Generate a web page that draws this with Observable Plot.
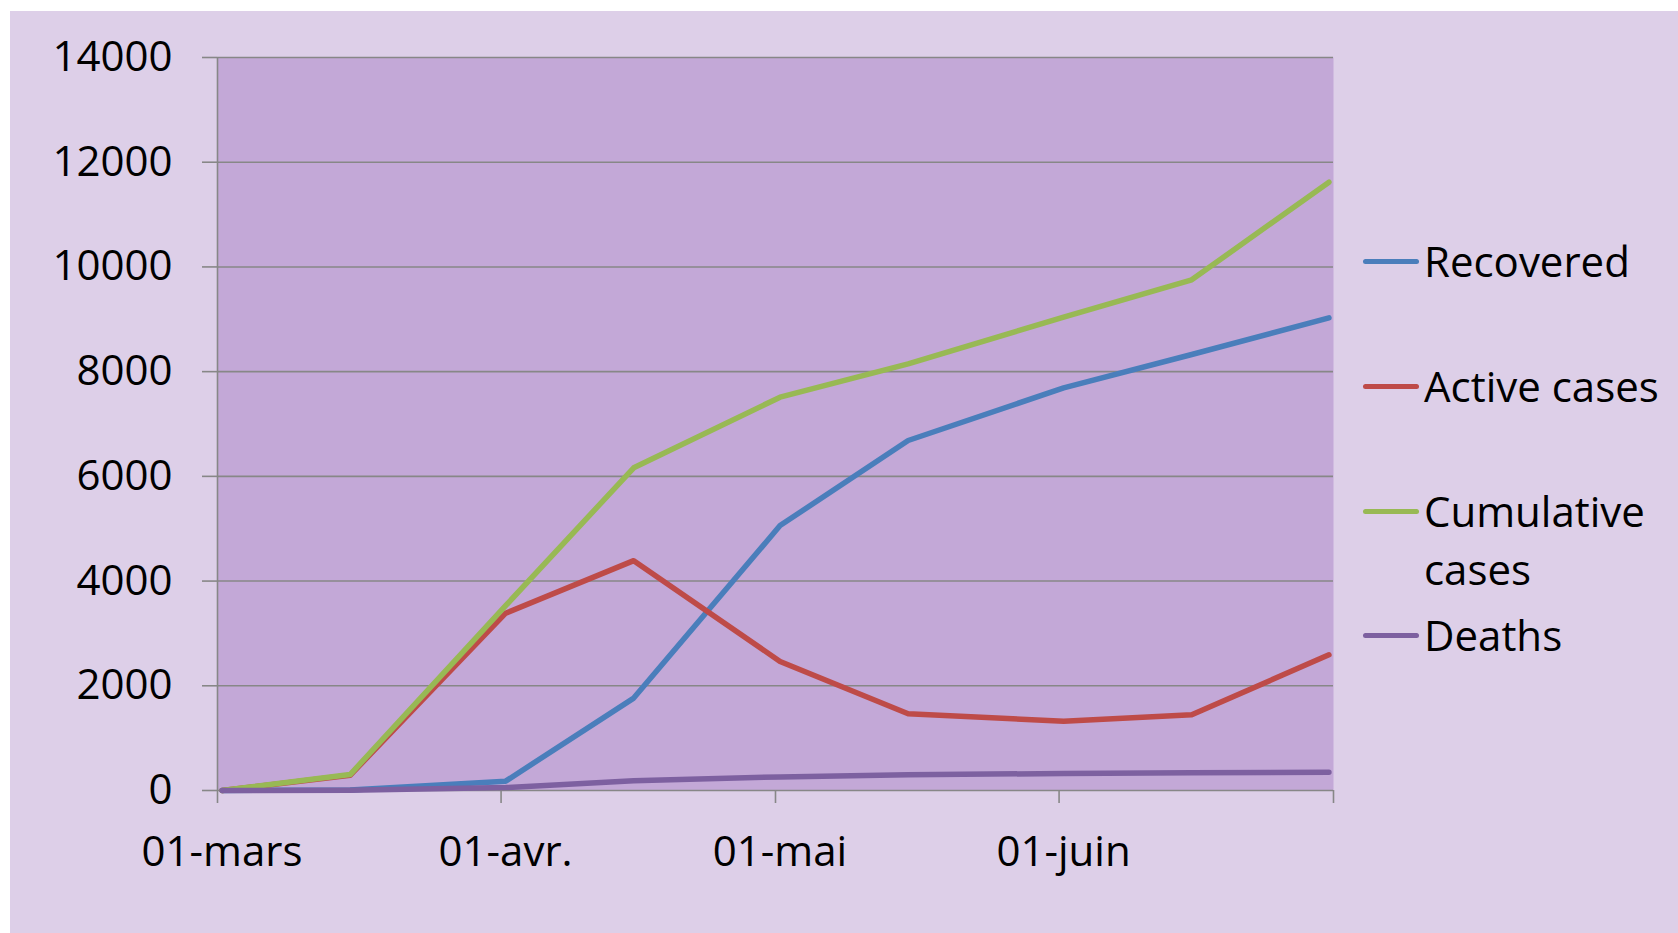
<!DOCTYPE html>
<html>
<head>
<meta charset="utf-8">
<script src="https://cdn.jsdelivr.net/npm/d3@7"></script>
<script src="https://cdn.jsdelivr.net/npm/@observablehq/plot@0.6"></script>
<style>
  html, body { margin: 0; padding: 0; background: #ffffff; width: 1678px; height: 933px; overflow: hidden; }
  #panel { position: absolute; left: 10px; top: 11px; width: 1668px; height: 922px; background: #DDCFE8; }
  #chart { position: absolute; left: 0; top: 0; }
  .leg { position: absolute; left: 1353px; display: flex; align-items: flex-start;
         font-family: "Open Sans", sans-serif; font-size: 42px; line-height: 58px; color: #000; }
  .sw { width: 56px; height: 5px; border-radius: 3px; margin-top: 26.5px; margin-right: 5px; flex: none; }
  .lt { width: 250px; }
</style>
</head>
<body>
<div id="panel"><div id="chart"></div></div>
<script>
// ---- data ----
const dates = ["2020-03-01","2020-03-15","2020-04-01","2020-04-15","2020-05-01","2020-05-15","2020-06-01","2020-06-15","2020-06-30"];
const recovered  = [0, 10, 178, 1765, 5060, 6685, 7690, 8327, 9028];
const active     = [0, 290, 3386, 4390, 2465, 1465, 1324, 1445, 2591];
const cumulative = [0, 305, 3530, 6163, 7512, 8149, 9040, 9754, 11618];
const deaths     = [0, 5, 55, 185, 260, 300, 325, 340, 350];

const seriesNames = ["Recovered", "Active cases", "Cumulative cases", "Deaths"];
const seriesColors = ["#4A7EBB", "#BE4B48", "#98B954", "#7D60A0"];
const seriesValues = [recovered, active, cumulative, deaths];

const xTickDates = ["2020-03-01","2020-04-01","2020-05-01","2020-06-01","2020-07-01"];
const xTickLabels = ["01-mars","01-avr.","01-mai","01-juin",""];
const yTicks = [0, 2000, 4000, 6000, 8000, 10000, 12000, 14000];

// ---- build table ----
// Excel date axis: each day is a slot, values plotted at the middle of the day
const parseDay = s => new Date(s + "T12:00:00Z");
const parse = s => new Date(s + "T00:00:00Z");
const table = [];
seriesNames.forEach((name, si) => {
  dates.forEach((d, i) => table.push({series: name, date: parseDay(d), value: seriesValues[si][i]}));
});
const xTicks = xTickDates.map(parse);

const grid = "#878787";

const chart = Plot.plot({
  width: 1668,
  height: 922,
  marginLeft: 207,
  marginTop: 46,
  marginRight: 345,
  marginBottom: 143,
  style: { fontFamily: "Open Sans, sans-serif", fontSize: "42px", background: "transparent", color: "#000" },
  x: { type: "utc", domain: [xTicks[0], xTicks[xTicks.length - 1]] },
  y: { domain: [0, 14000] },
  color: { domain: seriesNames, range: seriesColors },
  marks: [
    Plot.frame({ fill: "#C3A8D7", stroke: null }),
    Plot.gridY(yTicks, { stroke: grid, strokeOpacity: 1, strokeWidth: 1.6 }),
    Plot.ruleX([xTicks[0]], { stroke: grid, strokeWidth: 1.6 }),
    Plot.axisY(yTicks, { tickSize: 15, tickPadding: 30, tickFormat: d => String(d), stroke: grid, strokeWidth: 1.6, fill: "#000", fontSize: 42, label: null }),
    Plot.axisX(xTicks, { tickSize: 13, tickFormat: () => "", stroke: grid, strokeWidth: 1.6, label: null }),
    Plot.axisX(xTicks, { tickSize: 0, tickPadding: 46, tickFormat: (d, i) => xTickLabels[i], fill: "#000", fontSize: 42, dx: 4.5, label: null }),
    Plot.line(table, { x: "date", y: "value", z: "series", stroke: "series", strokeWidth: 5.5, strokeLinecap: "round", strokeLinejoin: "round" })
  ]
});
document.getElementById("chart").appendChild(chart);

// ---- legend ----
const legendTops = [221, 346, 471, 595];
const panel = document.getElementById("panel");
seriesNames.forEach((name, i) => {
  const item = document.createElement("div");
  item.className = "leg";
  item.style.top = legendTops[i] + "px";
  const sw = document.createElement("div");
  sw.className = "sw";
  sw.style.background = seriesColors[i];
  const lt = document.createElement("div");
  lt.className = "lt";
  lt.textContent = name;
  item.appendChild(sw);
  item.appendChild(lt);
  panel.appendChild(item);
});
</script>
</body>
</html>
